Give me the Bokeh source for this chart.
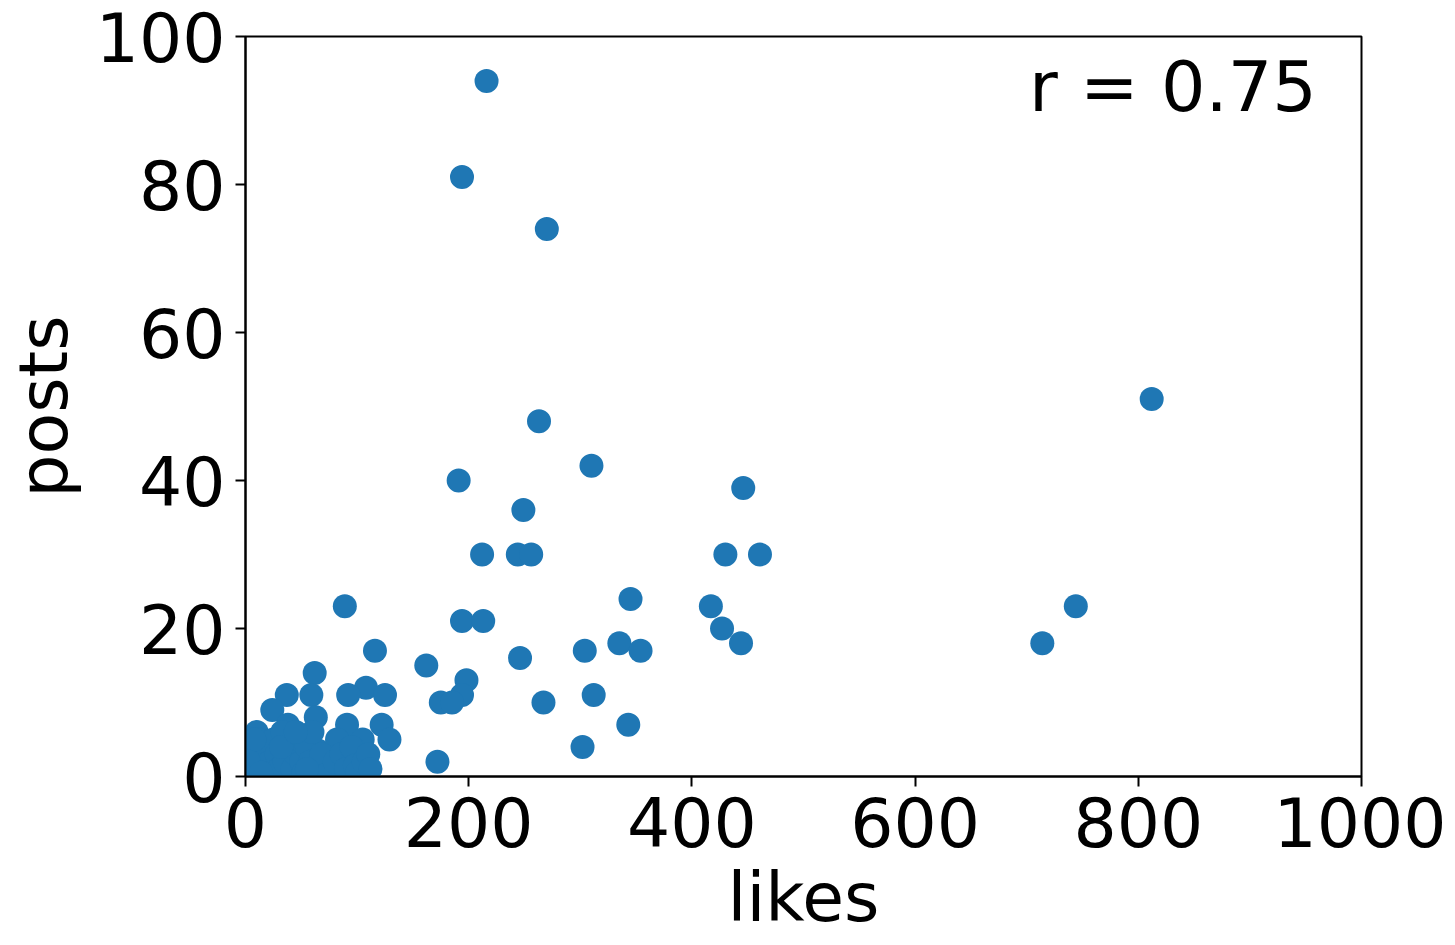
from bokeh.plotting import figure
from bokeh.models import Label, Range1d, FixedTicker
from bokeh.embed import file_html
from bokeh.resources import INLINE

likes = [216, 194, 270, 812, 263, 310, 191, 446, 249, 212, 244, 256, 430, 461,
         89, 417, 744, 345, 194, 213, 427, 335, 444, 714, 116, 304, 354, 246,
         162, 62, 198, 108, 59, 37, 92, 125, 194, 312, 175, 185, 267, 24, 63,
         91, 122, 343, 129, 302, 172, 38, 10, 65, 72, 82, 105,
         5, 8, 12, 15, 18, 20, 22, 25, 28, 30, 33, 35, 40, 42, 45, 48, 50, 52,
         55, 58, 60, 68, 75, 80, 86, 90, 95, 98, 100, 106, 110, 112, 8, 3, 14,
         32, 45, 55]
posts = [94, 81, 74, 51, 48, 42, 40, 39, 36, 30, 30, 30, 30, 30,
         23, 23, 23, 24, 21, 21, 20, 18, 18, 18, 17, 17, 17, 16,
         15, 14, 13, 12, 11, 11, 11, 11, 11, 11, 10, 10, 10, 9, 8,
         7, 7, 7, 5, 4, 2, 7, 6, 3.5, 1, 5, 5,
         1, 3, 5, 2, 4, 0.5, 2, 5, 3, 1, 6, 2, 4, 1, 3, 5, 2, 0.5,
         4, 2, 6, 3, 0.5, 2, 3, 1, 4, 1.5, 0.5, 2, 3, 1, 5, 2, 0.5,
         4, 6, 1]

x_ticks = [0, 200, 400, 600, 800, 1000]
y_ticks = [0, 20, 40, 60, 80, 100]
r_text = "r = 0.75"

FONT = "DejaVu Sans"

p = figure(width=1439, height=929, output_backend="svg", toolbar_location=None,
           x_range=Range1d(0, 1000), y_range=Range1d(0, 100),
           min_border_left=230, min_border_top=36, min_border_right=85,
           min_border_bottom=140)
p.frame_width = 1116
p.frame_height = 740

p.scatter(likes, posts, size=24, color="#1f77b4", line_color=None)

p.grid.visible = False
p.outline_line_color = "black"
p.outline_line_width = 2
p.outline_line_alpha = 1

for ax in (p.xaxis[0], p.yaxis[0]):
    ax.axis_line_color = "black"
    ax.axis_line_width = 2
    ax.major_tick_line_width = 2
    ax.major_tick_out = 10
    ax.major_tick_in = 0
    ax.minor_tick_line_color = None
    ax.major_label_text_font = FONT
    ax.major_label_text_font_size = "68px"
    ax.major_label_text_color = "black"
    ax.axis_label_text_font = FONT
    ax.axis_label_text_font_size = "68px"
    ax.axis_label_text_font_style = "normal"
    ax.axis_label_text_color = "black"

p.xaxis.ticker = FixedTicker(ticks=x_ticks)
p.yaxis.ticker = FixedTicker(ticks=y_ticks)
p.xaxis.axis_label = "likes"
p.yaxis.axis_label = "posts"
p.xaxis.major_label_standoff = 10
p.yaxis.major_label_standoff = 10
p.xaxis.axis_label_standoff = 8
p.yaxis.axis_label_standoff = 10

lbl = Label(x=960, y=93.2, text=r_text, text_align="right",
            text_baseline="alphabetic", text_font=FONT,
            text_font_size="70px", text_color="black")
p.add_layout(lbl)

open("out.html", "w").write(file_html(p, INLINE))
